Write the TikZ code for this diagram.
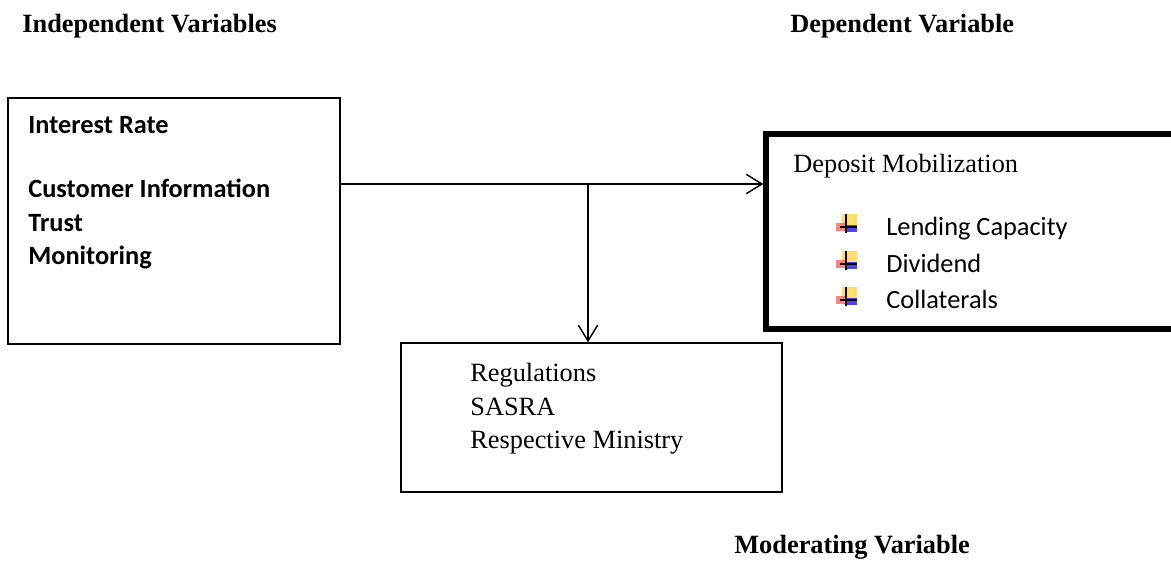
\documentclass[tikz,border=0pt]{standalone}
\usepackage{fontspec}
\setmainfont{Liberation Serif}
\newfontfamily\calibri{Carlito}
\usetikzlibrary{arrows.meta, positioning, calc}
\definecolor{bulyellow}{RGB}{255, 214, 70}
\definecolor{bulred}{RGB}{240, 90, 90}
\definecolor{bulblue}{RGB}{40, 40, 235}
\tikzset{
    % Boxes
    varbox/.style={draw, line width=0.8pt, inner sep=0pt},
    depbox/.style={draw, line width=3pt, inner sep=0pt},
    % Labels
    headlabel/.style={font=\fontsize{15}{18}\selectfont\bfseries, anchor=base west, inner sep=0pt},
    factorlabel/.style={font=\calibri\fontsize{15}{18}\selectfont\bfseries, anchor=base west, inner sep=0pt},
    itemlabel/.style={font=\calibri\fontsize{15}{18}\selectfont, anchor=base west, inner sep=0pt},
    bodylabel/.style={font=\fontsize{15}{18}\selectfont, anchor=base west, inner sep=0pt},
    % Arrows
    myarrow/.style={-{Straight Barb[length=9pt, width=11pt]}, line width=0.8pt},
    % Bullet icon
    wingbullet/.pic={
        \fill[bulyellow, opacity=0.8] (-4,-21) rectangle (11,-10);
        \fill[bulred, opacity=0.75] (-10,-12) rectangle (1,-4);
        \fill[bulblue, opacity=0.85] (-1,-10) rectangle (11,-3);
        \draw[line width=0.9pt] (0,-21) -- (0,-2);
        \draw[line width=0.9pt] (-6,-8) -- (11,-8);
    },
}

\begin{document}
\begin{tikzpicture}[x=0.02cm, y=-0.02cm]
\useasboundingbox (0,0) rectangle (1171,561);

% Headings
\node[headlabel] (indeptitle) at (22,32) {Independent Variables};
\node[headlabel] (deptitle) at (790,32) {Dependent Variable};
\node[headlabel] (modtitle) at (734,553) {Moderating Variable};

% Boxes
\node[varbox, minimum width=6.64cm, minimum height=4.92cm] (indep) at (174,221) {};
\node[depbox, minimum width=8.38cm, minimum height=3.9cm] (dep) at (975.5,231.5) {};
\node[varbox, minimum width=7.62cm, minimum height=2.98cm] (regs) at (591.5,417.5) {};

% Independent variables
\node[factorlabel] (rate) at (28,133) {Interest Rate};
\node[factorlabel] (custinfo) at (28,197) {Customer Information};
\node[factorlabel] (trust) at (28,231) {Trust};
\node[factorlabel] (monitor) at (28,264) {Monitoring};

% Dependent variable
\node[bodylabel] (deposit) at (793,172) {Deposit Mobilization};
\pic at (846,235) {wingbullet};
\node[itemlabel] (lending) at (886,235) {Lending Capacity};
\pic at (846,272) {wingbullet};
\node[itemlabel] (dividend) at (886,272) {Dividend};
\pic at (846,308) {wingbullet};
\node[itemlabel] (collat) at (886,308) {Collaterals};

% Moderating variable
\node[bodylabel] (regul) at (470,381) {Regulations};
\node[bodylabel] (sasra) at (470,415) {SASRA};
\node[bodylabel] (ministry) at (470,448) {Respective Ministry};

% Arrows
\coordinate (split) at (588,184);
\draw[myarrow] (indep.east |- split) -- (split) -- (dep.west |- split);
\draw[myarrow] (split) -- (regs.north -| split);

\end{tikzpicture}
\end{document}
